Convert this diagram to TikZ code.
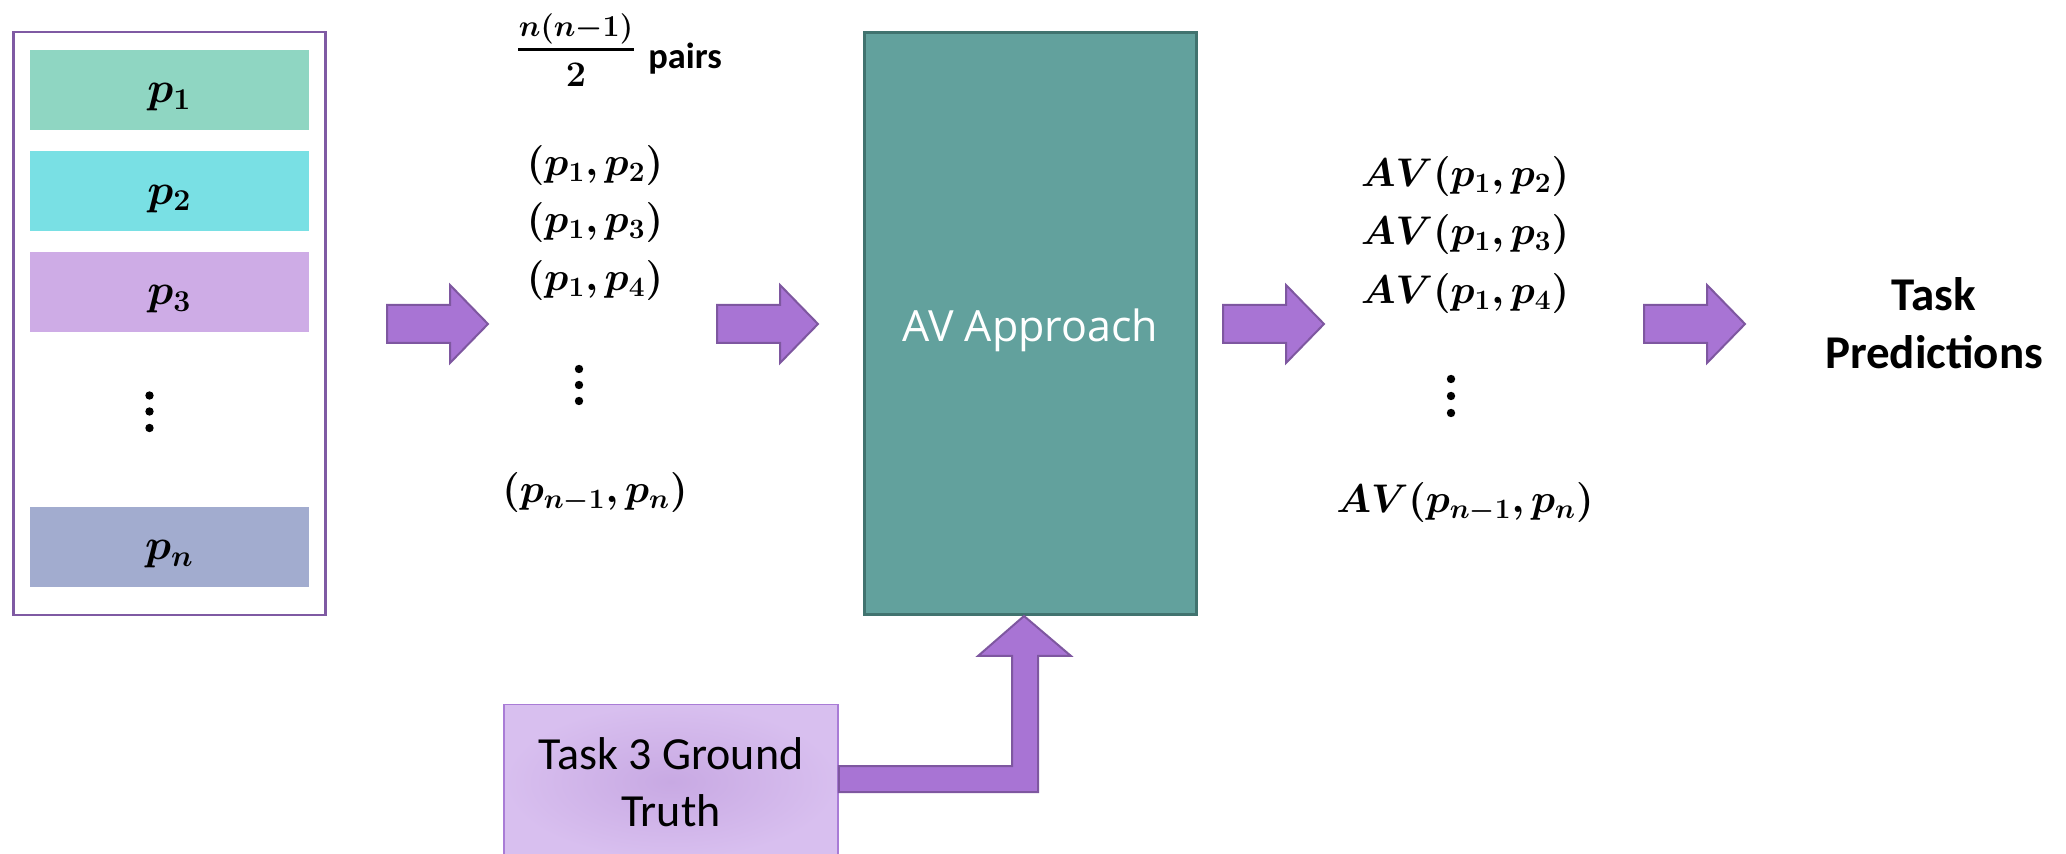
\RequirePackage{fix-cm}
\documentclass[tikz,border=0pt]{standalone}
\usepackage{amsmath}
\usepackage{bm}
\usepackage{fontspec}
\newfontfamily\calibri{Carlito}
\newfontfamily\osans{Open Sans}
\definecolor{pone}{HTML}{8FD6C2}
\definecolor{ptwo}{HTML}{79E0E4}
\definecolor{pthree}{HTML}{CEACE6}
\definecolor{pnc}{HTML}{A2ACCF}
\definecolor{framec}{HTML}{7F5AA3}
\definecolor{avfill}{HTML}{62A19D}
\definecolor{avline}{HTML}{41736F}
\definecolor{arrfill}{HTML}{A874D4}
\definecolor{arrline}{HTML}{7E57A0}
\definecolor{gtin}{HTML}{C8A9E3}
\definecolor{gtout}{HTML}{D8BFEF}
\definecolor{gtline}{HTML}{A97CD6}
\newcommand{\blockarr}[2]{%
  \draw[barrow] (#1,#2) -- ++(0,-19) -- ++(63,0) -- ++(0,-20) -- ++(38,39)
    -- ++(-38,39) -- ++(0,-20) -- ++(-63,0) -- cycle;}
\newcommand{\plabel}[1]{\scalebox{1.08}{$\bm{#1}$}}
\tikzset{
  pbox/.style={rectangle, minimum width=139.5pt, minimum height=40pt, inner sep=0pt,
    text height=14pt, text depth=1pt, font=\fontsize{20}{24}\selectfont},
  mathcol/.style={inner sep=0pt, text height=15pt, text depth=5pt,
    font=\fontsize{20}{24}\selectfont},
  barrow/.style={fill=arrfill, draw=arrline, line width=1pt, line join=miter},
  dotc/.style={fill=black},
}
\begin{document}
\begin{tikzpicture}[x=0.5pt, y=-0.5pt]
\clip (0,0) rectangle (2066,854);
% left frame
\node[draw=framec, line width=1.35pt, minimum width=156pt, minimum height=291.5pt, inner sep=0pt] (frame) at (169.5,323.5) {};
\node[pbox, fill=pone] (p1) at (169.5,90) {\plabel{p_1}};
\node[pbox, fill=ptwo] (p2) at (169.5,191.5) {\plabel{p_2}};
\node[pbox, fill=pthree] (p3) at (169.5,292) {\plabel{p_3}};
\node[pbox, fill=pnc] (pn) at (169.5,547) {\plabel{p_n}};
\fill[dotc] (149.5,395.5) circle (4.2) (149.5,411.5) circle (4.2) (149.5,428) circle (4.2);
% arrows
\blockarr{387}{324}
\blockarr{717}{324}
\blockarr{1223}{324}
\blockarr{1644}{324}
% pairs count: fraction and label
\node[inner sep=0pt, anchor=base, font=\fontsize{20}{24}\selectfont] (num) at (576,37)
  {\scalebox{0.76}{$\bm{n(n{-}1)}$}};
\node[inner sep=0pt, anchor=base, font=\fontsize{20}{24}\selectfont] (den) at (576,87)
  {\scalebox{0.9}{$\bm{2}$}};
\draw[line width=1.5pt] (num.west |- 0,50) -- (num.east |- 0,50);
\node[inner sep=0pt, anchor=base west, font=\calibri\bfseries\fontsize{18.2}{20}\selectfont] (pairs) at (648,69) {pairs};
% pairs column
\node[mathcol] (q12) at (595,166) {$\bm{(p_1,p_2)}$};
\node[mathcol] (q13) at (595,223) {$\bm{(p_1,p_3)}$};
\node[mathcol] (q14) at (595,281) {$\bm{(p_1,p_4)}$};
\fill[dotc] (579,369) circle (4.2) (579,385) circle (4.2) (579,401) circle (4.2);
\node[mathcol] (qn) at (595,492.5) {$\bm{(p_{n-1},p_n)}$};
% AV box
\node[draw=avline, fill=avfill, line width=1.5pt, minimum width=166pt, minimum height=291pt, inner sep=0pt,
  text height=20pt, text depth=1.5pt, text=white, font=\osans\fontsize{21.5}{24}\selectfont] (av) at (1030.5,323.5) {AV Approach};
% AV results column
\node[mathcol] (r12) at (1465,177) {$\bm{AV(p_1,p_2)}$};
\node[mathcol] (r13) at (1465,235) {$\bm{AV(p_1,p_3)}$};
\node[mathcol] (r14) at (1465,293.5) {$\bm{AV(p_1,p_4)}$};
\fill[dotc] (1451,379) circle (4.2) (1451,396) circle (4.2) (1451,413) circle (4.2);
\node[mathcol] (rn) at (1465,503) {$\bm{AV(p_{n-1},p_n)}$};
% task predictions
\node[align=center, inner sep=0pt, font=\calibri\bfseries\fontsize{23.5}{29}\selectfont] (tp) at (1934,323) {Task\\Predictions};
% ground truth box
\node[draw=gtline, line width=0.75pt, shading=radial, inner color=gtin, outer color=gtout,
  minimum width=167pt, minimum height=77pt, inner sep=0pt, anchor=north, align=center,
  font=\calibri\fontsize{23}{28.5}\selectfont] (gt) at (671,704) {Task 3 Ground\\Truth};
% bent arrow from ground truth to AV box
\draw[barrow] (gt.east |- 0,766) -- (1012,766) -- (1012,656) -- (978,656) -- (av.south -| 1024,0)
  -- (1071,656) -- (1038,656) -- (1038,792) -- (gt.east |- 0,792) -- cycle;
\end{tikzpicture}
\end{document}
